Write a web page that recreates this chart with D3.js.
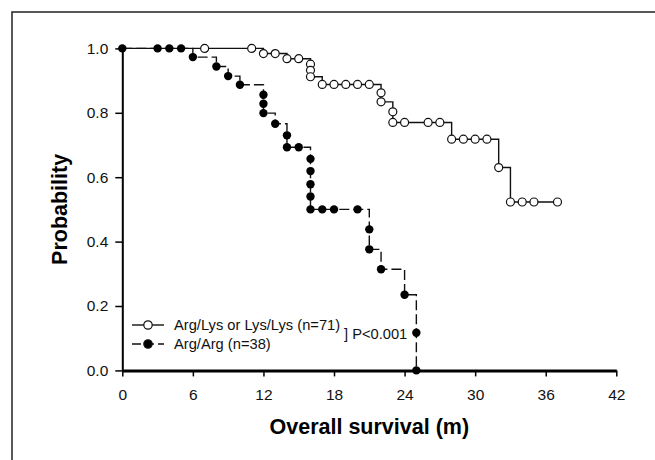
<!DOCTYPE html>
<html>
<head>
<meta charset="utf-8">
<script src="https://cdn.jsdelivr.net/npm/d3@7"></script>
<style>
  body { margin: 0; background: #fff; }
  text { font-family: "Liberation Sans", Arial, sans-serif; }
</style>
</head>
<body>
<div class="canvas"></div>
<script>
// survival data (time in months, probability)
const argLysTime = [0, 7, 11, 12, 13, 14, 15, 16, 16, 16, 17, 18, 19, 20, 21, 22, 22, 23, 23, 24, 26, 27, 28, 29, 30, 31, 32, 33, 34, 35, 37];
const argLysProb = [1.0, 1.0, 1.0, 0.984, 0.984, 0.968, 0.968, 0.951, 0.932, 0.912, 0.888, 0.888, 0.888, 0.888, 0.888, 0.862, 0.834, 0.803, 0.770, 0.770, 0.770, 0.770, 0.718, 0.718, 0.718, 0.718, 0.630, 0.523, 0.523, 0.523, 0.523];

const argArgTime = [0, 3, 4, 5, 6, 8, 9, 10, 12, 12, 12, 13, 14, 14, 15, 16, 16, 16, 16, 16, 17, 18, 20, 21, 21, 22, 24, 25, 25];
const argArgProb = [1.0, 1.0, 1.0, 1.0, 0.973, 0.944, 0.914, 0.887, 0.856, 0.828, 0.799, 0.766, 0.730, 0.693, 0.693, 0.657, 0.619, 0.578, 0.540, 0.500, 0.500, 0.500, 0.500, 0.438, 0.376, 0.314, 0.235, 0.117, 0.0];

const xTicks = [0, 6, 12, 18, 24, 30, 36, 42];
const yTicks = [0, 0.2, 0.4, 0.6, 0.8, 1.0];
const legendLabels = ['Arg/Lys or Lys/Lys (n=71)', 'Arg/Arg (n=38)'];

const dims = {width: 494, height: 322};
const margin = {left: 122.3, top: 48.4};

const svg = d3.select('.canvas')
    .append('svg')
    .attr('width', 655)
    .attr('height', 460);

// frame round the figure (cropped at right and bottom)
svg.append('rect')
    .attr('x', 12).attr('y', 12)
    .attr('width', 720).attr('height', 520)
    .attr('fill', 'none')
    .attr('stroke', '#222')
    .attr('stroke-width', 1.5);

const graph = svg.append('g')
    .attr('transform', `translate(${margin.left},${margin.top})`);

const x = d3.scaleLinear().domain([0, 42]).range([0, dims.width]);
const y = d3.scaleLinear().domain([0, 1]).range([dims.height, 0]);

// axes
const xAxis = d3.axisBottom(x).tickValues(xTicks).tickSize(6).tickSizeOuter(0).tickPadding(13);
const yAxis = d3.axisLeft(y).tickValues(yTicks).tickSize(7).tickSizeOuter(0).tickPadding(7)
    .tickFormat(d3.format('.1f'));

const gx = graph.append('g')
    .attr('transform', `translate(0,${dims.height})`)
    .call(xAxis);
gx.select('.domain').attr('stroke-width', 3);

const gy = graph.append('g').call(yAxis);
gy.select('.domain').attr('stroke-width', 2);

[gx, gy].forEach(g => {
    g.selectAll('.tick line').attr('stroke-width', 1.5);
    g.selectAll('.tick text')
        .attr('font-size', 15.5)
        .attr('fill', '#111')
        .style('font-family', '"Liberation Sans", Arial, sans-serif');
});

// titles
svg.append('text')
    .attr('x', margin.left + dims.width / 2)
    .attr('y', 434)
    .attr('text-anchor', 'middle')
    .attr('font-size', 21.5)
    .attr('font-weight', 'bold')
    .text('Overall survival (m)');

svg.append('text')
    .attr('transform', `translate(67,${margin.top + dims.height / 2}) rotate(-90)`)
    .attr('text-anchor', 'middle')
    .attr('font-size', 21.5)
    .attr('font-weight', 'bold')
    .text('Probability');

// step curves
const line = d3.line()
    .x(d => x(d[0]))
    .y(d => y(d[1]))
    .curve(d3.curveStepAfter);

const argLys = argLysTime.map((t, i) => [t, argLysProb[i]]);
const argArg = argArgTime.map((t, i) => [t, argArgProb[i]]);

graph.append('path')
    .attr('d', line(argLys))
    .attr('fill', 'none')
    .attr('stroke', '#111')
    .attr('stroke-width', 1.4);

graph.append('path')
    .attr('d', line(argArg))
    .attr('fill', 'none')
    .attr('stroke', '#111')
    .attr('stroke-width', 1.4)
    .attr('stroke-dasharray', '10,4');

graph.selectAll('.open')
    .data(argLys.slice(1))
    .enter()
    .append('circle')
    .attr('class', 'open')
    .attr('cx', d => x(d[0]))
    .attr('cy', d => y(d[1]))
    .attr('r', 4)
    .attr('fill', '#fff')
    .attr('stroke', '#111')
    .attr('stroke-width', 1.2);

graph.selectAll('.filled')
    .data(argArg)
    .enter()
    .append('circle')
    .attr('class', 'filled')
    .attr('cx', d => x(d[0]))
    .attr('cy', d => y(d[1]))
    .attr('r', 4.2)
    .attr('fill', '#000');

// legend
const legend = svg.append('g');
const rows = [{y: 325, dash: null, fill: '#fff'}, {y: 344, dash: '9,4', fill: '#000'}];

rows.forEach((r, i) => {
    legend.append('line')
        .attr('x1', 132).attr('x2', 164)
        .attr('y1', r.y).attr('y2', r.y)
        .attr('stroke', '#111')
        .attr('stroke-width', 1.4)
        .attr('stroke-dasharray', r.dash);
    legend.append('circle')
        .attr('cx', 148).attr('cy', r.y)
        .attr('r', 4.2)
        .attr('fill', r.fill)
        .attr('stroke', '#111')
        .attr('stroke-width', 1.2);
    legend.append('text')
        .attr('x', 174).attr('y', r.y + 5)
        .attr('font-size', 14.7)
        .attr('fill', '#111')
        .text(legendLabels[i]);
});

legend.append('text')
    .attr('x', 344).attr('y', 339)
    .attr('font-size', 14.7)
    .attr('fill', '#111')
    .text('] P<0.001');
</script>
</body>
</html>
